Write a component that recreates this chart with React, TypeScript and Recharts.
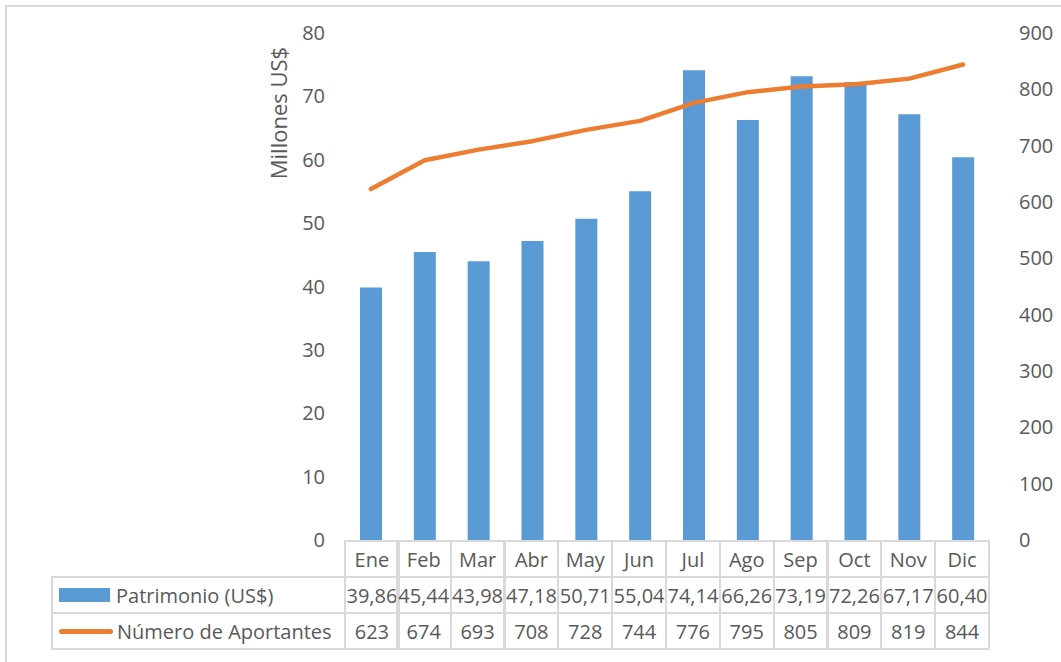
import { ComposedChart, Bar, Line, XAxis, YAxis } from "recharts";

const months = ["Ene", "Feb", "Mar", "Abr", "May", "Jun", "Jul", "Ago", "Sep", "Oct", "Nov", "Dic"];
const patrimonio = [39.86, 45.44, 43.98, 47.18, 50.71, 55.04, 74.14, 66.26, 73.19, 72.26, 67.17, 60.4];
const aportantes = [623, 674, 693, 708, 728, 744, 776, 795, 805, 809, 819, 844];
const leftTicks = [0, 10, 20, 30, 40, 50, 60, 70, 80];
const rightTicks = [0, 100, 200, 300, 400, 500, 600, 700, 800, 900];

const data = months.map((m, i) => ({ mes: m, patrimonio: patrimonio[i], aportantes: aportantes[i] }));

const W = 1061;
const H = 662;
const plotLeft = 344;
const plotRight = 990;
const plotTop = 33;
const plotBottom = 540;
const colW = (plotRight - plotLeft) / 12;
const rowH = 38;
const legendLeft = 51;

const FONT = "'Open Sans', sans-serif";
const TXT = "#595959";
const GRID = "#d9d9d9";
const BLUE = "#5b9bd5";
const ORANGE = "#ed7d31";

const fmt = (v: number) => v.toFixed(2).replace(".", ",");

const cell: React.CSSProperties = {
  position: "absolute",
  boxSizing: "border-box",
  height: rowH,
  display: "flex",
  alignItems: "center",
  justifyContent: "center",
  whiteSpace: "nowrap",
  fontSize: 20,
  color: TXT,
  border: `2px solid ${GRID}`,
};

function DataTable() {
  const rows = [
    { top: plotBottom, values: months, legend: null as React.ReactNode },
    {
      top: plotBottom + rowH - 2,
      values: patrimonio.map(fmt),
      legend: (
        <>
          <div style={{ width: 51, height: 14, background: BLUE, marginRight: 6 }} />
          Patrimonio (US$)
        </>
      ),
    },
    {
      top: plotBottom + 2 * rowH - 4,
      values: aportantes.map(String),
      legend: (
        <>
          <div style={{ width: 54, height: 5, borderRadius: 3, background: ORANGE, marginRight: 4 }} />
          Número de Aportantes
        </>
      ),
    },
  ];
  return (
    <>
      {rows.map((r, ri) => (
        <div key={ri}>
          {r.legend && (
            <div
              style={{
                ...cell,
                left: legendLeft,
                top: r.top,
                width: plotLeft - legendLeft + 2,
                justifyContent: "flex-start",
                paddingLeft: 6,
              }}
            >
              {r.legend}
            </div>
          )}
          {r.values.map((v, i) => (
            <div
              key={i}
              style={{
                ...cell,
                left: plotLeft + i * colW - (i > 0 ? 2 : 0) + (i > 0 ? 0 : 0),
                top: r.top,
                width: colW + 2,
                zIndex: 1,
                background: "transparent",
              }}
            >
              {v}
            </div>
          ))}
        </div>
      ))}
    </>
  );
}

export default function App() {
  return (
    <div style={{ position: "absolute", left: 0, top: 0, width: W, height: H, overflow: "hidden", background: "#fff", fontFamily: FONT }}>
      <div
        style={{
          position: "absolute",
          left: 5,
          top: 5,
          width: W,
          height: H,
          borderTop: `2px solid ${GRID}`,
          borderLeft: `2px solid ${GRID}`,
        }}
      />
      <div style={{ position: "absolute", left: 0, top: 0 }}>
        <ComposedChart
          width={W}
          height={H}
          data={data}
          barCategoryGap="29%"
          margin={{ top: plotTop, bottom: H - plotBottom, left: 0, right: 0 }}
        >
          <XAxis dataKey="mes" hide />
          <YAxis
            yAxisId="left"
            width={plotLeft}
            domain={[0, 80]}
            ticks={leftTicks}
            axisLine={false}
            tickLine={false}
            tickSize={0}
            tickMargin={19}
            tick={{ fontSize: 20, fill: TXT, fontFamily: FONT }}
            interval={0}
            label={{
              content: () => (
                <text
                  x={278}
                  y={113}
                  transform="rotate(-90 278 113)"
                  textAnchor="middle"
                  dominantBaseline="central"
                  fontSize={22}
                  fill={TXT}
                  fontFamily={FONT}
                >
                  Millones US$
                </text>
              ),
            }}
          />
          <YAxis
            yAxisId="right"
            orientation="right"
            width={W - plotRight}
            domain={[0, 900]}
            ticks={rightTicks}
            axisLine={false}
            tickLine={false}
            tickSize={0}
            tickMargin={29}
            tick={{ fontSize: 20, fill: TXT, fontFamily: FONT }}
            interval={0}
          />
          <Bar yAxisId="left" dataKey="patrimonio" fill={BLUE} barSize={22} isAnimationActive={false} />
          <Line
            yAxisId="right"
            dataKey="aportantes"
            type="linear"
            stroke={ORANGE}
            strokeWidth={4.5}
            strokeLinecap="round"
            strokeLinejoin="round"
            dot={false}
            isAnimationActive={false}
          />
        </ComposedChart>
      </div>
      <DataTable />
    </div>
  );
}
